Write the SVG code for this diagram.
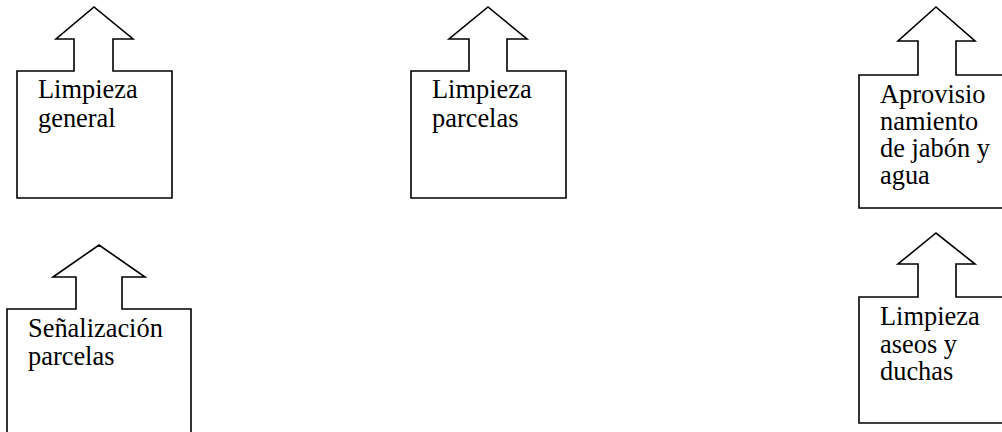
<svg xmlns="http://www.w3.org/2000/svg" width="1002" height="432" viewBox="0 0 1002 432">
  <style>
    .callout { fill: #ffffff; stroke: #000000; stroke-width: 1.6; stroke-linejoin: miter; }
    .label { font-family: "Liberation Serif", "Times New Roman", serif; font-size: 26.4px; fill: #000000; }
  </style>
  <rect x="0" y="0" width="1002" height="432" fill="#ffffff"/>

  <!-- up-arrow callout boxes -->
  <g id="limpieza-general">
    <path class="callout" d="M17,198 L17,71 L74,71 L74,39 L56,39 L94,7 L133,39 L113,39 L113,71 L172,71 L172,198 Z"/>
    <text class="label" x="38" y="98">Limpieza</text>
    <text class="label" x="38" y="127">general</text>
  </g>

  <g id="limpieza-parcelas">
    <path class="callout" d="M411,198 L411,71 L469,71 L469,39 L449,39 L488,7 L527,39 L507,39 L507,71 L566,71 L566,198 Z"/>
    <text class="label" x="432" y="98">Limpieza</text>
    <text class="label" x="432" y="127">parcelas</text>
  </g>

  <g id="aprovisionamiento">
    <path class="callout" d="M859,208 L859,75 L918,75 L918,41 L898,41 L936,7 L975,41 L956,41 L956,75 L1008,75 L1008,208 Z"/>
    <text class="label" x="880" y="103">Aprovisio</text>
    <text class="label" x="880" y="130">namiento</text>
    <text class="label" x="880" y="157">de jabón y</text>
    <text class="label" x="880" y="184">agua</text>
  </g>

  <g id="senalizacion-parcelas">
    <path class="callout" d="M7,440 L7,309 L76,309 L76,277 L53,277 L99,245 L145,277 L122,277 L122,309 L191,309 L191,440 Z"/>
    <text class="label" x="28" y="337">Señalización</text>
    <text class="label" x="28" y="365">parcelas</text>
  </g>

  <g id="limpieza-aseos">
    <path class="callout" d="M859,423 L859,297 L918,297 L918,264 L898,264 L936,233 L975,264 L956,264 L956,297 L1008,297 L1008,423 Z"/>
    <text class="label" x="880" y="325">Limpieza</text>
    <text class="label" x="880" y="353">aseos y</text>
    <text class="label" x="880" y="380">duchas</text>
  </g>

  <!-- no connectors between the boxes -->
  <g id="connectors"></g>
</svg>
